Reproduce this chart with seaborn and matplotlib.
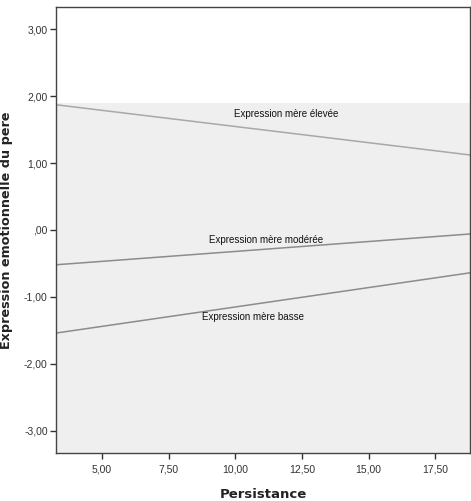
import matplotlib
matplotlib.use("Agg")
import matplotlib.pyplot as plt
import seaborn as sns
import pandas as pd

# Data
persistance = [3.28, 18.8]
groups = ["Expression mère élevée", "Expression mère modérée", "Expression mère basse"]
eleve = [1.87, 1.12]
modere = [-0.52, -0.06]
basse = [-1.54, -0.64]
x_ticks = [5.0, 7.5, 10.0, 12.5, 15.0, 17.5]
y_ticks = [3.0, 2.0, 1.0, 0.0, -1.0, -2.0, -3.0]

rows = []
for g, vals in zip(groups, [eleve, modere, basse]):
    for x, y in zip(persistance, vals):
        rows.append({"Persistance": x, "Expression": y, "Groupe": g})
df = pd.DataFrame(rows)

sns.set_style("white")
plt.rcParams['font.family'] = ['Liberation Sans', 'DejaVu Sans']

fig = plt.figure(figsize=(4.71, 5.01), dpi=100)
ax = fig.add_axes([0.119, 0.096, 0.879, 0.89])

ax.axhspan(-3.4, 1.9, color="#efefef", zorder=0, lw=0)

sns.lineplot(data=df, x="Persistance", y="Expression", hue="Groupe",
             palette={groups[0]: "#a8a8a8", groups[1]: "#8c8c8c", groups[2]: "#8c8c8c"},
             linewidth=1.1, legend=False, ax=ax)

ax.set_xlim(3.28, 18.8)
ax.set_ylim(-3.33, 3.33)

def fmt(v):
    s = f"{v:.2f}".replace(".", ",")
    if s.startswith("0,"):
        s = s[1:]
    return s

ax.set_xticks(x_ticks)
ax.set_xticklabels([fmt(v) for v in x_ticks], fontsize=7.5, color="#333333")
ax.set_yticks(y_ticks)
ax.set_yticklabels([fmt(v) for v in y_ticks], fontsize=7.5, color="#333333")
ax.tick_params(axis="both", direction="out", length=4, width=1, color="#333333",
               left=True, bottom=True, pad=2)
ax.tick_params(axis="x", pad=4)

for sp in ax.spines.values():
    sp.set_color("#444444")
    sp.set_linewidth(1.0)

ax.text(11.9, 1.73, groups[0], fontsize=7, ha="center", va="center", color="#111111")
ax.text(11.15, -0.15, groups[1], fontsize=7, ha="center", va="center", color="#111111")
ax.text(10.65, -1.3, groups[2], fontsize=7, ha="center", va="center", color="#111111")

ax.set_xlabel("Persistance", fontsize=9.5, fontweight="bold", labelpad=10,
              color="#222222", family="DejaVu Sans")
ax.set_ylabel("Expression emotionnelle du pere", fontsize=9.2, fontweight="bold",
              color="#222222", family="DejaVu Sans")
ax.yaxis.set_label_coords(-0.103, 0.5)

fig.savefig("out.png", dpi=100)
